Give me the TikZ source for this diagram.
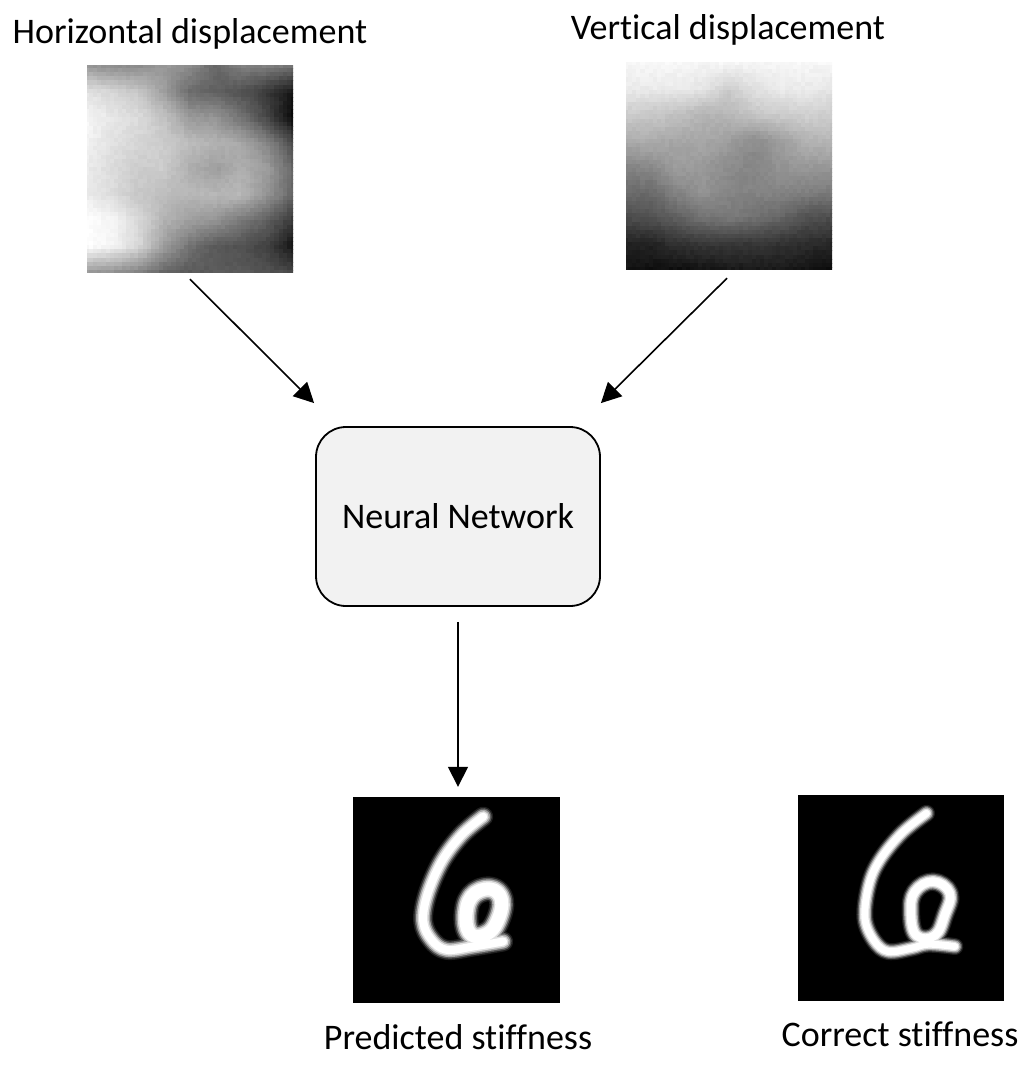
\documentclass[tikz,border=0pt]{standalone}
\usepackage{fontspec}
\setmainfont{Carlito}[RawFeature={-liga}]
\usetikzlibrary{arrows.meta}
\tikzset{
  flowarrow/.style={-{Triangle[length=20pt,width=20pt]}, line width=1.6pt},
  caption/.style={font=\fontsize{36}{42}\selectfont, inner sep=0pt},
  netbox/.style={draw, line width=1.8pt, fill=black!5, rounded corners=30pt, minimum width=284pt, minimum height=179pt, font=\fontsize{36}{42}\selectfont},
  imgbox/.style={inner sep=0pt, minimum size=206pt}
}
% bilinear lookup in a 9x9 table of gray levels
\newcommand{\loadmap}[2]{%
  \foreach \v [count=\n from 0] in {#2}{\expandafter\xdef\csname #1\n\endcsname{\v}}%
}
\newcommand{\mapval}[3]{\csname #1\the\numexpr #2*9+#3\endcsname}
\newcommand{\graymap}[3]{%
  \begin{scope}
    \clip (#2,#3) rectangle +(206,206);
    \foreach \i in {0,...,50}{
      \foreach \j in {0,...,50}{
        \pgfmathtruncatemacro\ca{min(floor(\i/6.25),7)}
        \pgfmathtruncatemacro\ra{min(floor(\j/6.25),7)}
        \pgfmathsetmacro\fx{\i/6.25-\ca}
        \pgfmathsetmacro\fy{\j/6.25-\ra}
        \pgfmathsetmacro\lev{max(0,min(100,(1-\fy)*((1-\fx)*\mapval{#1}{\ra}{\ca}+\fx*\mapval{#1}{\ra}{(\ca+1)})+\fy*((1-\fx)*\mapval{#1}{(\ra+1)}{\ca}+\fx*\mapval{#1}{(\ra+1)}{(\ca+1)})+1.5*rand))}
        \fill[white!\lev!black] (#2+\i*4.12-2.1,#3+\j*4.12-2.1) rectangle +(5,5);
      }
    }
  \end{scope}
}
\loadmap{hmap}{60,55,55,60,55,40,50,50,45,
  88,84,78,62,42,38,32,22,8,
  97,90,86,76,60,58,45,28,3,
  95,88,84,80,74,70,66,52,30,
  92,86,80,80,68,62,68,62,40,
  92,86,78,74,72,72,72,58,40,
  100,96,85,70,62,58,48,38,22,
  100,96,85,62,45,35,32,25,8,
  60,58,52,40,35,35,35,32,28}
\loadmap{vmap}{97,97,97,96,97,96,97,97,97,
  92,92,92,90,80,88,92,92,90,
  80,78,76,70,72,78,80,82,80,
  68,68,65,66,62,55,62,70,72,
  52,55,62,60,55,52,58,60,60,
  42,42,52,58,52,52,52,50,48,
  30,32,38,45,48,44,40,32,30,
  14,14,20,22,22,22,20,18,15,
  8,6,6,8,10,10,10,8,4}

\begin{document}
\begin{tikzpicture}[x=1pt, y=-1pt]
    \useasboundingbox (0,0) rectangle (1032,1065);
    \graymap{hmap}{87}{66}
    \graymap{vmap}{626}{63}
    \fill[black] (353,797) rectangle (560,1003);
    \fill[black] (798,795) rectangle (1004,1001);
    % handwritten digits, each stroke blurred by stacked widths
    \begin{scope}[shift={(340,785)}, x=0.333pt, y=-0.333pt, line cap=round, line join=round]
      \foreach \w/\g in {20/12,17/35,14/65,11/88,8/100}{
        \draw[white!\g!black, line width=\w pt] plot[smooth, tension=0.6] coordinates {(430,95) (365,150) (305,230) (262,330) (250,410) (275,465) (320,495) (400,485) (490,470)};
        \draw[white!\g!black, line width=\w pt+5pt] plot[smooth cycle, tension=0.7] coordinates {(378,400) (395,335) (450,312) (485,345) (472,410) (440,448) (395,450)};
      }
    \end{scope}
    \begin{scope}[shift={(785,785)}, x=0.333pt, y=-0.333pt, line cap=round, line join=round]
      \foreach \w/\g in {17/12,14.5/35,12/65,9.5/88,7/100}{
        \draw[white!\g!black, line width=\w pt] plot[smooth, tension=0.6] coordinates {(425,85) (350,145) (285,225) (252,300) (240,400) (268,468) (310,500) (380,490) (430,478) (510,485)};
        \draw[white!\g!black, line width=\w pt+1.5pt] plot[smooth cycle, tension=0.7] coordinates {(378,385) (390,320) (445,290) (495,325) (480,390) (450,452) (395,452)};
      }
    \end{scope}
    \node[imgbox] (hdisp) at (190,169) {};
    \node[imgbox] (vdisp) at (729,166) {};
    \node[imgbox] (pred) at (456.5,900) {};
    \node[imgbox] (corr) at (901,898) {};
    \node[netbox] (net) at (458,516.5) {\raisebox{-1pt}{Neural Network}};
    \node[caption] (hlabel) at (190,34) {Horizontal displacement};
    \node[caption] (vlabel) at (728,30) {Vertical displacement};
    \node[caption] (plabel) at (458,1037) {Predicted stiffness};
    \node[caption] (clabel) at (900,1034) {Correct stiffness};
    \draw[flowarrow] ([yshift=-7pt]hdisp.south) -- ([xshift=-1pt,yshift=23pt]net.north west);
    \draw[flowarrow] ([xshift=-2pt,yshift=-9pt]vdisp.south) -- ([yshift=23pt]net.north east);
    \draw[flowarrow] ([yshift=-15pt]net.south) -- ([xshift=1.5pt,yshift=10pt]pred.north);
\end{tikzpicture}
\end{document}
